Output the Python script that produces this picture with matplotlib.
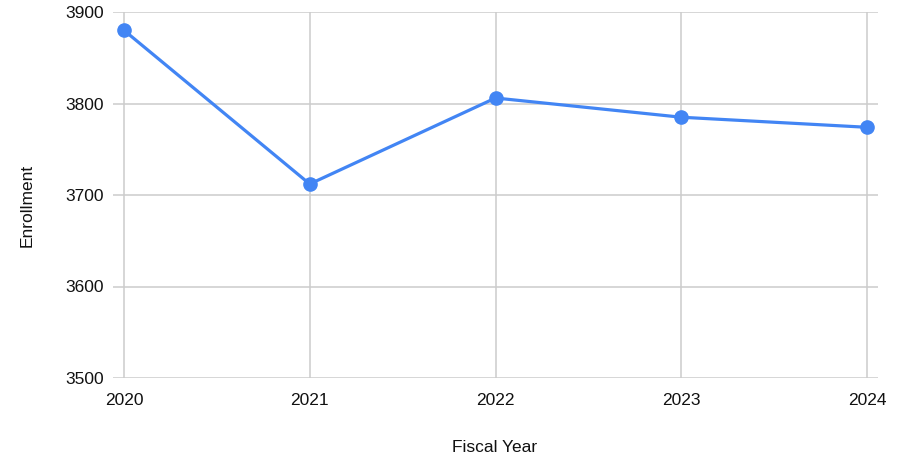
import matplotlib.pyplot as plt

# Enrollment by fiscal year
years = [2020, 2021, 2022, 2023, 2024]
enrollment = [3880, 3712, 3806, 3785, 3774]
yticks = [3500, 3600, 3700, 3800, 3900]

plt.rcParams['font.family'] = ['Liberation Sans', 'DejaVu Sans']

fig = plt.figure(figsize=(9.04, 4.57), dpi=100)
ax = fig.add_axes([113 / 904, 1 - 378 / 457, (878 - 113) / 904, (378 - 12) / 457])

ax.plot(years, enrollment, color='#4285F4', linewidth=2.3, marker='o',
        markersize=9.5, zorder=3, clip_on=False)

ax.set_xlim(2020 - 0.059, 2024 + 0.059)
ax.set_ylim(3500, 3900)
ax.set_xticks(years)
ax.set_yticks(yticks)
ax.grid(True, color='#cccccc', linewidth=1.1)
ax.tick_params(length=0, labelsize=12.5, colors='#111111')
ax.tick_params(axis='y', pad=6.5)
ax.tick_params(axis='x', pad=11)

for s in ax.spines.values():
    s.set_visible(False)

fig.text(495 / 904, 1 - 447 / 457, 'Fiscal Year', ha='center', va='center',
         fontsize=12.5, color='#111111')
fig.text(27 / 904, 1 - 205 / 457, 'Enrollment', ha='center', va='center',
         rotation=90, fontsize=12.5, color='#111111')

fig.savefig('out.png', dpi=100)
